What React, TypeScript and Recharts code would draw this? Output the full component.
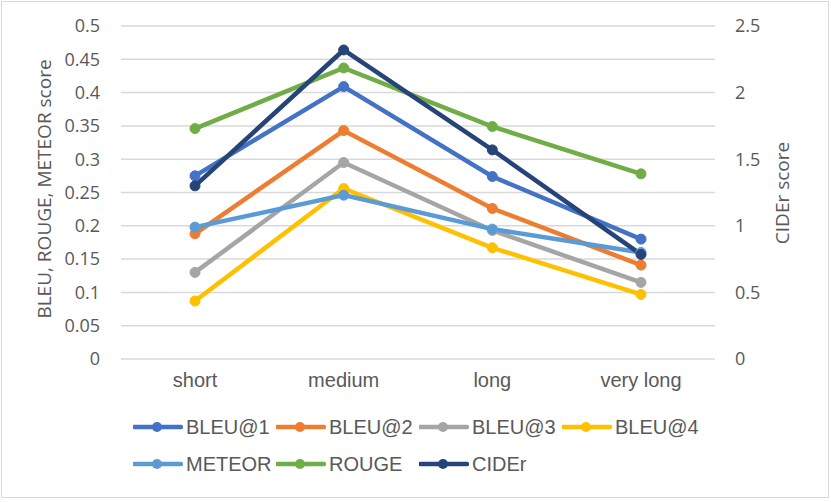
import React from 'react';
import { LineChart, Line, XAxis, YAxis, CartesianGrid, Legend } from 'recharts';

const categories = ['short', 'medium', 'long', 'very long'];

const bleu1 = [0.275, 0.409, 0.274, 0.18];
const bleu2 = [0.188, 0.343, 0.226, 0.141];
const bleu3 = [0.13, 0.295, 0.193, 0.115];
const bleu4 = [0.087, 0.256, 0.167, 0.097];
const meteor = [0.198, 0.246, 0.195, 0.16];
const rouge = [0.346, 0.437, 0.349, 0.278];
const cider = [1.3, 2.32, 1.57, 0.785];

const leftTicks = [0, 0.05, 0.1, 0.15, 0.2, 0.25, 0.3, 0.35, 0.4, 0.45, 0.5];
const rightTicks = [0, 0.5, 1, 1.5, 2, 2.5];

const series = [
  { key: 'BLEU@1', values: bleu1, color: '#4472C4', axis: 'left' },
  { key: 'BLEU@2', values: bleu2, color: '#ED7D31', axis: 'left' },
  { key: 'BLEU@3', values: bleu3, color: '#A5A5A5', axis: 'left' },
  { key: 'BLEU@4', values: bleu4, color: '#FFC000', axis: 'left' },
  { key: 'METEOR', values: meteor, color: '#5B9BD5', axis: 'left' },
  { key: 'ROUGE', values: rouge, color: '#70AD47', axis: 'left' },
  { key: 'CIDEr', values: cider, color: '#264478', axis: 'right' },
];

const data = categories.map((name, i) => {
  const row: Record<string, string | number> = { name };
  series.forEach((s) => {
    row[s.key] = s.values[i];
  });
  return row;
});

const textColor = '#595959';
const tickFont = { fill: textColor, fontSize: 18, fontFamily: 'Open Sans' };

function LegendBox() {
  const rows = [series.slice(0, 4), series.slice(4)];
  return (
    <div style={{ position: 'relative', height: 103 }}>
      {rows.map((row, r) =>
        row.map((s, i) => (
          <div
            key={s.key}
            style={{
              position: 'absolute',
              left: 133 + i * 143,
              top: 28 + r * 37 - 12,
              height: 24,
              display: 'flex',
              alignItems: 'center',
              fontFamily: 'Liberation Sans',
              fontSize: 20,
              color: textColor,
              whiteSpace: 'nowrap',
            }}
          >
            <svg width={50} height={14} style={{ marginRight: 3 }}>
              <line x1={1} y1={7} x2={48} y2={7} stroke={s.color} strokeWidth={4.5} strokeLinecap="round" />
              <circle cx={24} cy={7} r={5} fill={s.color} />
            </svg>
            {s.key}
          </div>
        ))
      )}
    </div>
  );
}

export default function App() {
  return (
    <div style={{ position: 'absolute', left: 0, top: 0, width: 831, height: 502, background: '#fff' }}>
      <LineChart width={831} height={502} data={data} margin={{ top: 26, right: 0, bottom: 0, left: 0 }}>
        <CartesianGrid yAxisId="left" vertical={false} stroke="#d9d9d9" strokeWidth={1.5} />
        <XAxis
          dataKey="name"
          height={40}
          padding={{ left: 74, right: 74 }}
          tickLine={false}
          axisLine={false}
          tickSize={0}
          tickMargin={14}
          tick={{ fill: textColor, fontSize: 20, fontFamily: 'Liberation Sans' }}
        />
        <YAxis
          yAxisId="left"
          orientation="left"
          width={121}
          domain={[0, 0.5]}
          ticks={leftTicks}
          interval={0}
          tickLine={false}
          axisLine={false}
          tickSize={0}
          tickMargin={21}
          tick={tickFont}
          label={{
            content: () => (
              <text
                x={46}
                y={189}
                transform="rotate(-90 46 189)"
                textAnchor="middle"
                dominantBaseline="middle"
                fill={textColor}
                fontSize={19}
                fontFamily="Open Sans"
              >
                BLEU, ROUGE, METEOR score
              </text>
            ),
          }}
        />
        <YAxis
          yAxisId="right"
          orientation="right"
          width={116}
          domain={[0, 2.5]}
          ticks={rightTicks}
          interval={0}
          tickLine={false}
          axisLine={false}
          tickSize={0}
          tickMargin={20}
          tick={tickFont}
          label={{
            content: () => (
              <text
                x={784}
                y={193}
                transform="rotate(-90 784 193)"
                textAnchor="middle"
                dominantBaseline="middle"
                fill={textColor}
                fontSize={19}
                fontFamily="Open Sans"
              >
                CIDEr score
              </text>
            ),
          }}
        />
        <Legend verticalAlign="bottom" height={103} content={() => <LegendBox />} />
        {series.map((s) => (
          <Line
            key={s.key}
            yAxisId={s.axis}
            dataKey={s.key}
            stroke={s.color}
            strokeWidth={4.5}
            dot={{ r: 5, fill: s.color, stroke: s.color, strokeWidth: 1 }}
            activeDot={false}
            isAnimationActive={false}
          />
        ))}
      </LineChart>
      <div
        style={{
          position: 'absolute',
          left: 1,
          top: 1,
          width: 826,
          height: 495,
          border: '1.5px solid #d9d9d9',
          pointerEvents: 'none',
        }}
      />
    </div>
  );
}
